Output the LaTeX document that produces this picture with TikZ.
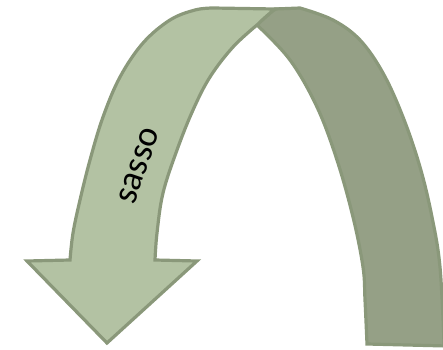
\documentclass[tikz,border=0pt]{standalone}
\usepackage{fontspec}
\setmainfont{Carlito}
\definecolor{frontc}{RGB}{179,194,163}
\definecolor{backc}{RGB}{149,160,134}
\definecolor{edgec}{RGB}{138,152,122}
\begin{document}
\begin{tikzpicture}[x=0.75pt,y=-0.75pt,
  face/.style={draw=edgec,line width=2.4pt,line join=miter}]
\useasboundingbox (0,0) rectangle (443,350);
\clip (0,0) rectangle (443,350);
% back face
\fill[backc,face] (275,9) -- (300,8)
  -- plot[smooth,tension=0.6] coordinates {(300,8) (333,20) (360,40) (383,73) (403,117) (420,167) (432,217) (440,267) (444,343)}
  -- (447,346) -- (367,344)
  -- plot[smooth,tension=0.6] coordinates {(367,344) (365,300) (363,267) (353,217) (337,160) (317,107) (290,60) (257,25)}
  .. controls (263,19) and (270,13) .. (275,9) -- cycle;
% front face
\fill[frontc,face] (107,343) -- (27,261) -- (70,260)
  -- plot[smooth,tension=0.6] coordinates {(70,260) (73,233) (80,200) (90,160) (103,117) (120,77) (143,43) (170,20) (195,10) (213,8)}
  -- (275,9)
  .. controls (270,13) and (263,19) .. (257,25)
  -- plot[smooth,tension=0.6] coordinates {(257,25) (233,47) (210,77) (193,110) (177,150) (163,193) (157,233) (155,260)}
  -- (197,261) -- cycle;
\node[rotate=71,font=\fontsize{27}{30}\selectfont,inner sep=0pt] (lbl) at (139,166) {sasso};
\end{tikzpicture}
\end{document}
